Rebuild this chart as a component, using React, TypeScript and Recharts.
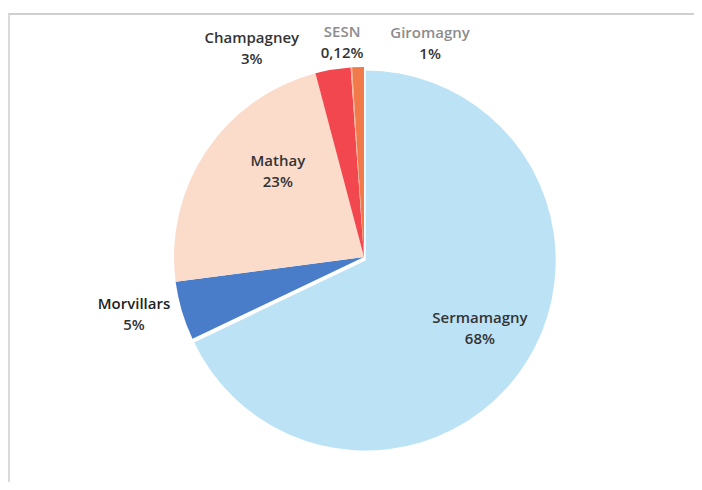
import { PieChart, Pie, Cell } from "recharts";

// Share of each site (%), drawn clockwise from 12 o'clock
const SITES = ["Sermamagny", "Morvillars", "Mathay", "Champagney", "SESN", "Giromagny"];
const SHARES = [68, 5, 23, 3, 0.12, 1];

const COLORS = ["#BCE2F5", "#4A7DC9", "#FBDCCB", "#F2474F", "#F7B49A", "#F07A4A"];

// label placement: radius as a fraction of outerRadius, angle nudge in degrees
const LABEL_LAYOUT: Record<string, { radius: number; nudge: number; nameColor: string }> = {
  Sermamagny: { radius: 0.713, nudge: 1.1, nameColor: "#333" },
  Morvillars: { radius: 1.247, nudge: -2.6, nameColor: "#222" },
  Mathay: { radius: 0.644, nudge: -11.4, nameColor: "#333" },
  Champagney: { radius: 1.253, nudge: 18.7, nameColor: "#333" },
  SESN: { radius: 1.138, nudge: 2.0, nameColor: "#8c8c8c" },
  Giromagny: { radius: 1.183, nudge: -18.9, nameColor: "#8c8c8c" },
};

const pieData = SITES.map((name, i) => ({ name, value: SHARES[i] }));

const RAD = Math.PI / 180;

const formatPct = (v: number) => v.toLocaleString("fr-FR") + "%";

const renderLabel = (props: any) => {
  const { cx, cy, midAngle, outerRadius, index } = props;
  const item = pieData[index];
  const layout = LABEL_LAYOUT[item.name];
  const a = (midAngle + layout.nudge) * RAD;
  const r = outerRadius * layout.radius;
  const x = cx + r * Math.cos(a);
  const y = cy - r * Math.sin(a);
  const font = { fontSize: 15, fontFamily: "'Open Sans', sans-serif", fontWeight: 600 };
  return (
    <g>
      <text x={x} y={y - 10.5} textAnchor="middle" dominantBaseline="central" fill={layout.nameColor} {...font}>
        {item.name}
      </text>
      <text x={x} y={y + 10.5} textAnchor="middle" dominantBaseline="central" fill="#333" {...font}>
        {formatPct(item.value)}
      </text>
    </g>
  );
};

export default function App() {
  return (
    <div style={{ position: "relative", width: 702, height: 490, margin: -8, background: "#fff", overflow: "hidden" }}>
      {/* frame of the scanned chart area */}
      <div
        style={{
          position: "absolute",
          left: 8,
          top: 13,
          right: 0,
          bottom: 0,
          borderTop: "2px solid #cfcfcf",
          borderLeft: "2px solid #dadada",
        }}
      />
      <div style={{ position: "absolute", left: 0, top: 0 }}>
        <PieChart width={702} height={490} margin={{ top: 0, right: 0, bottom: 0, left: 0 }}>
          <Pie
            data={pieData}
            dataKey="value"
            nameKey="name"
            cx={364}
            cy={257}
            outerRadius={190}
            startAngle={90}
            endAngle={-270}
            stroke="none"
            label={renderLabel}
            labelLine={false}
            isAnimationActive={false}
          >
            {pieData.map((d, i) => (
              <Cell
                key={d.name}
                fill={COLORS[i]}
                transform={i === 0 ? "translate(1.7 3.6)" : undefined}
              />
            ))}
          </Pie>
        </PieChart>
      </div>
    </div>
  );
}
